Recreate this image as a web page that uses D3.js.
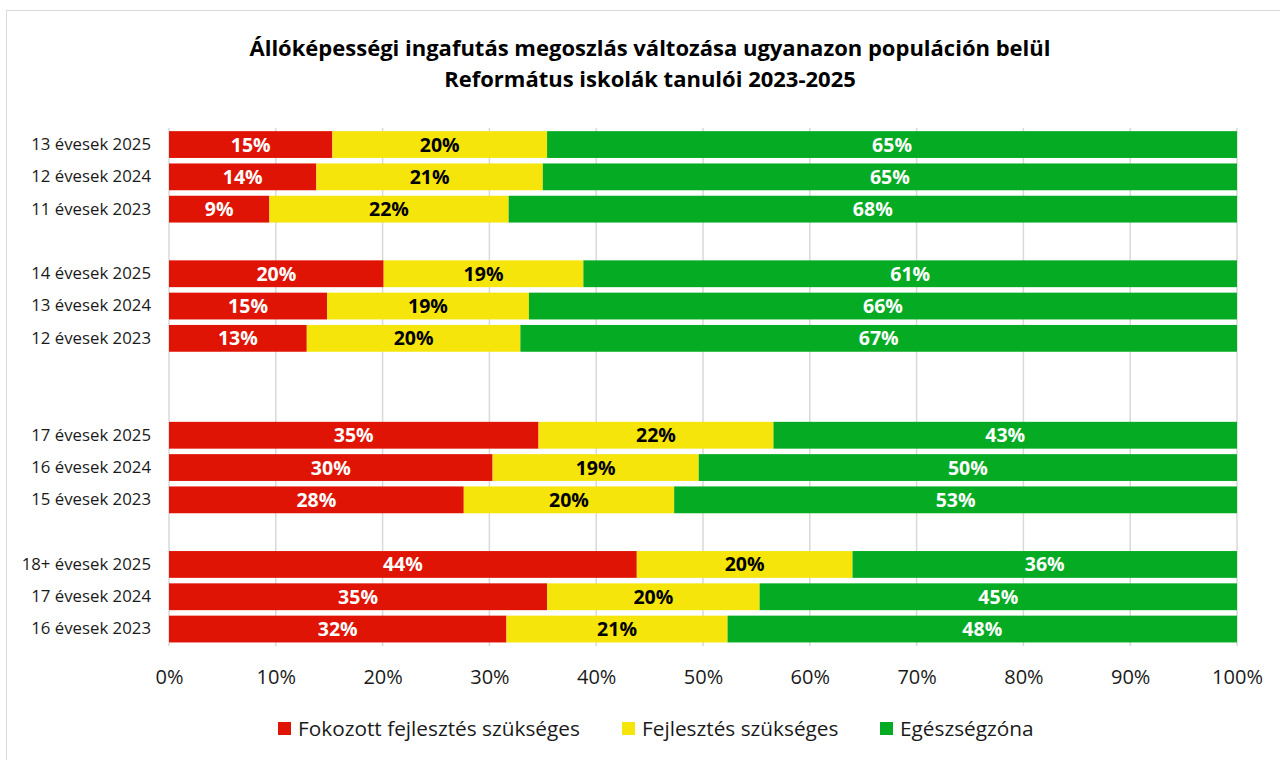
<!DOCTYPE html>
<html>
<head>
<meta charset="utf-8">
<script src="https://cdn.jsdelivr.net/npm/d3@7"></script>
<style>
  html, body { margin: 0; padding: 0; background: #fff; }
  svg { display: block; font-family: "Open Sans", "Noto Sans", sans-serif; }
</style>
</head>
<body>
<svg id="chart" width="1280" height="760"></svg>
<script>
// ---- DATA ----
const categories = [
  "13 évesek 2025", "12 évesek 2024", "11 évesek 2023", "",
  "14 évesek 2025", "13 évesek 2024", "12 évesek 2023", "", "",
  "17 évesek 2025", "16 évesek 2024", "15 évesek 2023", "",
  "18+ évesek 2025", "17 évesek 2024", "16 évesek 2023"
];
const fokozott   = [15.3, 13.8,  9.4, null, 20.1, 14.8, 12.9, null, null, 34.6, 30.3, 27.6, null, 43.8, 35.4, 31.6];
const fejlesztes = [20.1, 21.2, 22.4, null, 18.7, 18.9, 20.0, null, null, 22.0, 19.3, 19.7, null, 20.2, 19.9, 20.7];
const egeszseg   = [64.6, 65.0, 68.2, null, 61.2, 66.3, 67.1, null, null, 43.4, 50.4, 52.7, null, 36.0, 44.7, 47.7];

const seriesNames = ["Fokozott fejlesztés szükséges", "Fejlesztés szükséges", "Egészségzóna"];
const seriesColors = ["#e01405", "#f5e50b", "#05ac23"];
const labelColors = ["#ffffff", "#000000", "#ffffff"];
const xTicks = [0, 10, 20, 30, 40, 50, 60, 70, 80, 90, 100];

const titleLines = [
  "Állóképességi ingafutás megoszlás változása ugyanazon populáción belül",
  "Református iskolák tanulói 2023-2025"
];

// ---- SETUP ----
const FONT = "'Open Sans', 'Noto Sans', sans-serif";
const svg = d3.select("#chart");

// outer chart border
svg.append("rect")
  .attr("x", 6.5).attr("y", 10.5)
  .attr("width", 1290).attr("height", 780)
  .attr("fill", "none").attr("stroke", "#d9d9d9").attr("stroke-width", 1);

const x = d3.scaleLinear().domain([0, 100]).range([169, 1237]);
const y = d3.scaleBand()
  .domain(d3.range(categories.length))
  .range([128.4, 645.2])
  .paddingInner(0.17)
  .paddingOuter(0.085);

// title
svg.append("g").selectAll("text")
  .data(titleLines)
  .enter().append("text")
  .attr("x", 650).attr("y", (d, i) => 56 + i * 31)
  .attr("text-anchor", "middle")
  .attr("font-weight", "bold")
  .attr("font-size", 22)
  .attr("fill", "#000")
  .text(d => d);

// gridlines
svg.append("g").selectAll("line")
  .data(xTicks)
  .enter().append("line")
  .attr("x1", d => x(d)).attr("x2", d => x(d))
  .attr("y1", 128).attr("y2", 646)
  .attr("stroke", "#d9d9d9").attr("stroke-width", 1.5);

// x axis labels
const xAxis = d3.axisBottom(x).tickValues(xTicks).tickSize(0).tickPadding(0)
  .tickFormat(d => d + "%");
const gx = svg.append("g").attr("transform", "translate(0,670)").call(xAxis);
gx.select(".domain").remove();
gx.selectAll("text").attr("font-size", 20).attr("fill", "#1a1a1a")
  .attr("font-family", FONT);

// y axis labels
const yAxis = d3.axisLeft(y).tickSize(0).tickPadding(0).tickFormat(i => categories[i]);
const gy = svg.append("g").attr("transform", "translate(151,0)").call(yAxis);
gy.select(".domain").remove();
gy.selectAll("text").attr("font-size", 16.8).attr("fill", "#1a1a1a")
  .attr("font-family", FONT);

// stacked rows
const rows = categories.map((c, i) => ({
  i, vals: [fokozott[i], fejlesztes[i], egeszseg[i]]
})).filter(r => r.vals[0] != null);

const segs = [];
rows.forEach(r => {
  let acc = 0;
  r.vals.forEach((v, s) => {
    segs.push({ i: r.i, s, x0: acc, x1: acc + v, v });
    acc += v;
  });
});

svg.append("g").selectAll("rect")
  .data(segs)
  .enter().append("rect")
  .attr("x", d => x(d.x0))
  .attr("width", d => x(d.x1) - x(d.x0))
  .attr("y", d => y(d.i))
  .attr("height", y.bandwidth())
  .attr("fill", d => seriesColors[d.s]);

svg.append("g").selectAll("text")
  .data(segs)
  .enter().append("text")
  .attr("x", d => (x(d.x0) + x(d.x1)) / 2)
  .attr("y", d => y(d.i) + y.bandwidth() / 2)
  .attr("dy", "0.36em")
  .attr("text-anchor", "middle")
  .attr("font-weight", "bold")
  .attr("font-size", 19.5)
  .attr("fill", d => labelColors[d.s])
  .text(d => Math.round(d.v) + "%");

// legend
const legendX = [278, 622, 880];
const lg = svg.append("g").selectAll("g")
  .data(seriesNames)
  .enter().append("g")
  .attr("transform", (d, i) => `translate(${legendX[i]},722)`);
lg.append("rect").attr("width", 13).attr("height", 13)
  .attr("fill", (d, i) => seriesColors[i]);
lg.append("text").attr("x", 20).attr("y", 6.5).attr("dy", "0.36em")
  .attr("font-size", 20.8).attr("fill", "#1a1a1a")
  .text(d => d);
</script>
</body>
</html>
